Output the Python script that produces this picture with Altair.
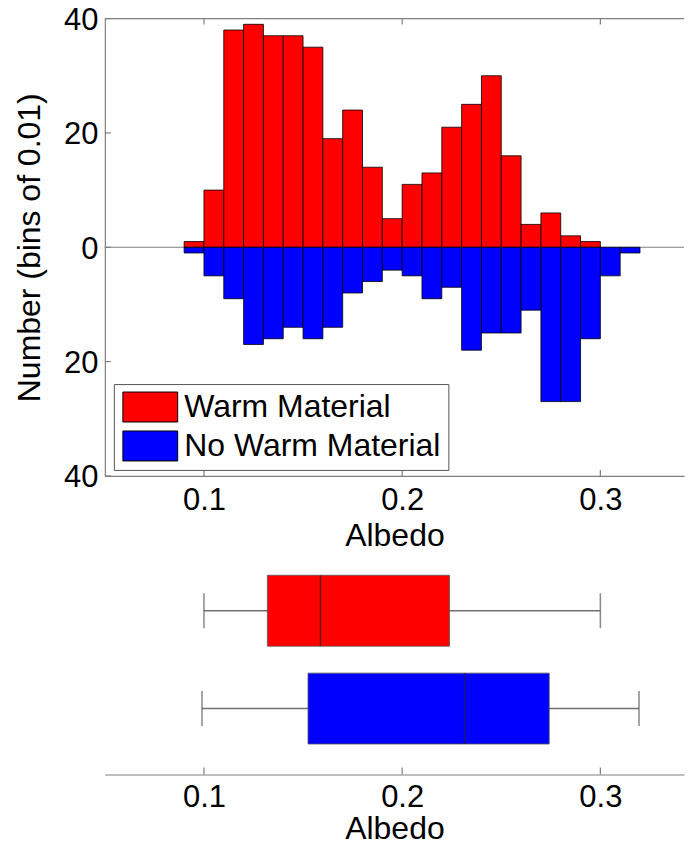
import altair as alt
import pandas as pd

# ---- data ----
bin_starts = [0.09, 0.10, 0.11, 0.12, 0.13, 0.14, 0.15, 0.16, 0.17, 0.18, 0.19, 0.20,
              0.21, 0.22, 0.23, 0.24, 0.25, 0.26, 0.27, 0.28, 0.29, 0.30, 0.31]
warm = [1, 10, 38, 39, 37, 37, 35, 19, 24, 14, 5, 11, 13, 21, 25, 30, 16, 4, 6, 2, 1, 0, 0]
no_warm = [1, 5, 9, 17, 16, 14, 16, 14, 8, 6, 4, 5, 9, 7, 18, 15, 15, 11, 27, 27, 16, 5, 1]

groups = ["Warm Material", "No Warm Material"]
colors = ["#ff0000", "#0000ff"]

box_min = [0.100, 0.099]
box_q1 = [0.132, 0.1525]
box_med = [0.1588, 0.2315]
box_q3 = [0.2239, 0.2742]
box_max = [0.300, 0.3195]

x_ticks = [0.1, 0.2, 0.3]
y_ticks = [-40, -20, 0, 20, 40]
bin_width = 0.01

# ---- layout constants ----
W = 580
H = 458
BH = 196
AXOFF = 17
FONT = "Liberation Sans"
AX = "#7f7f7f"
LBL = 31
TTL = 32

rows = []
for s, w, n in zip(bin_starts, warm, no_warm):
    rows.append({"start": s, "group": groups[0], "value": w})
    rows.append({"start": s, "group": groups[1], "value": -n})
hist = pd.DataFrame(rows)

xscale = alt.Scale(domain=[0.05, 0.3422], nice=False, zero=False)
yscale = alt.Scale(domain=[-40, 40], nice=False)
cscale = alt.Scale(domain=groups, range=colors)

base = (alt.Chart(hist)
        .transform_filter("datum.value != 0")
        .transform_calculate(end=f"datum.start + {bin_width}"))

bars = base.mark_bar(stroke="black", strokeWidth=0.8).encode(
    x=alt.X("start:Q", scale=xscale,
            axis=alt.Axis(orient="bottom", values=x_ticks, format=".1f", title="Albedo",
                          tickSize=0, labelPadding=10, titlePadding=5, domainColor=AX)),
    x2="end:Q",
    y=alt.Y("value:Q", scale=yscale, stack=None,
            axis=alt.Axis(orient="left", values=y_ticks,
                          labelExpr="format(abs(datum.value), 'd')", labelOffset=2,
                          title="Number (bins of 0.01)", tickSize=0, labelPadding=7,
                          titlePadding=17, domainColor=AX)),
    y2=alt.datum(0),
    color=alt.Color("group:N", scale=cscale,
                    legend=alt.Legend(title=None, orient="none", legendX=9, legendY=366,
                                      symbolType="M-1.83,-1H1.83V1H-1.83Z", symbolSize=900,
                                      symbolStrokeColor="black", symbolStrokeWidth=1,
                                      symbolOffset=13.5, labelOffset=18,
                                      labelFontSize=TTL, labelFont=FONT, labelLimit=500,
                                      padding=7, rowPadding=5, strokeColor="#555555")),
)

zero = alt.Chart(pd.DataFrame({"y": [0]})).mark_rule(color=AX, strokeWidth=1).encode(
    y=alt.Y("y:Q", scale=yscale, axis=None), x=alt.value(0), x2=alt.value(W))

top_border = alt.Chart(pd.DataFrame({"y": [40]})).mark_rule(color=AX, strokeWidth=1.2).encode(
    y=alt.Y("y:Q", scale=yscale, axis=None), x=alt.value(0), x2=alt.value(W))

xt = pd.DataFrame({"t": x_ticks})
yt = pd.DataFrame({"t": y_ticks})
xtick_bottom = alt.Chart(xt).mark_rule(color=AX, strokeWidth=1.2).encode(
    x=alt.X("t:Q", scale=xscale, axis=None), y=alt.value(H), y2=alt.value(H - 6))
xtick_top = alt.Chart(xt).mark_rule(color=AX, strokeWidth=1.2).encode(
    x=alt.X("t:Q", scale=xscale, axis=None), y=alt.value(0), y2=alt.value(6))
ytick_left = alt.Chart(yt).mark_rule(color=AX, strokeWidth=1.2).encode(
    y=alt.Y("t:Q", scale=yscale, axis=None), x=alt.value(0), x2=alt.value(6))

top = alt.layer(zero, bars, top_border, xtick_bottom, xtick_top, ytick_left).resolve_axis(
    x="independent", y="independent").properties(width=W, height=H)

# ---- box plot panel ----
box = pd.DataFrame({"group": groups, "lo": box_min, "q1": box_q1, "med": box_med,
                    "q3": box_q3, "hi": box_max})
ybox = alt.Y("group:N", scale=alt.Scale(domain=groups, paddingInner=0.2, paddingOuter=0.1),
             axis=None)
bb = alt.Chart(box)

whisk = bb.mark_rule(color="#707070", strokeWidth=1.5).encode(
    x=alt.X("lo:Q", scale=xscale,
            axis=alt.Axis(orient="bottom", offset=AXOFF, values=x_ticks, format=".1f",
                          title="Albedo", tickSize=0, labelPadding=8, titlePadding=1,
                          domainColor=AX)),
    x2="hi:Q", y=ybox)
cap_lo = bb.mark_tick(orient="vertical", size=35, thickness=1.5, color="#555555").encode(
    x=alt.X("lo:Q", scale=xscale, axis=None), y=ybox)
cap_hi = bb.mark_tick(orient="vertical", size=35, thickness=1.5, color="#555555").encode(
    x=alt.X("hi:Q", scale=xscale, axis=None), y=ybox)
boxes = bb.mark_bar(size=71, stroke="#555555", strokeWidth=0.8).encode(
    x=alt.X("q1:Q", scale=xscale, axis=None), x2="q3:Q", y=ybox,
    color=alt.Color("group:N", scale=cscale, legend=None))
med = bb.mark_tick(orient="vertical", size=71, thickness=1.5, color="#222222").encode(
    x=alt.X("med:Q", scale=xscale, axis=None), y=ybox)
btick = alt.Chart(xt).mark_rule(color=AX, strokeWidth=1.2).encode(
    x=alt.X("t:Q", scale=xscale, axis=None), y=alt.value(BH + AXOFF),
    y2=alt.value(BH + AXOFF - 7))

bottom = alt.layer(whisk, cap_lo, cap_hi, boxes, med, btick).resolve_axis(
    x="independent").properties(width=W, height=BH)

chart = alt.vconcat(top, bottom, spacing=86, bounds="flush").properties(
    padding={"left": 5, "top": -4, "right": 0, "bottom": -6}
).configure_view(strokeWidth=0).configure_axis(
    labelFont=FONT, titleFont=FONT, labelFontSize=LBL, titleFontSize=TTL,
    titleFontWeight="normal", labelColor="black", titleColor="black", grid=False,
    domainWidth=1.2
)

chart.save("out.html", embed_options={"renderer": "svg", "actions": False})
